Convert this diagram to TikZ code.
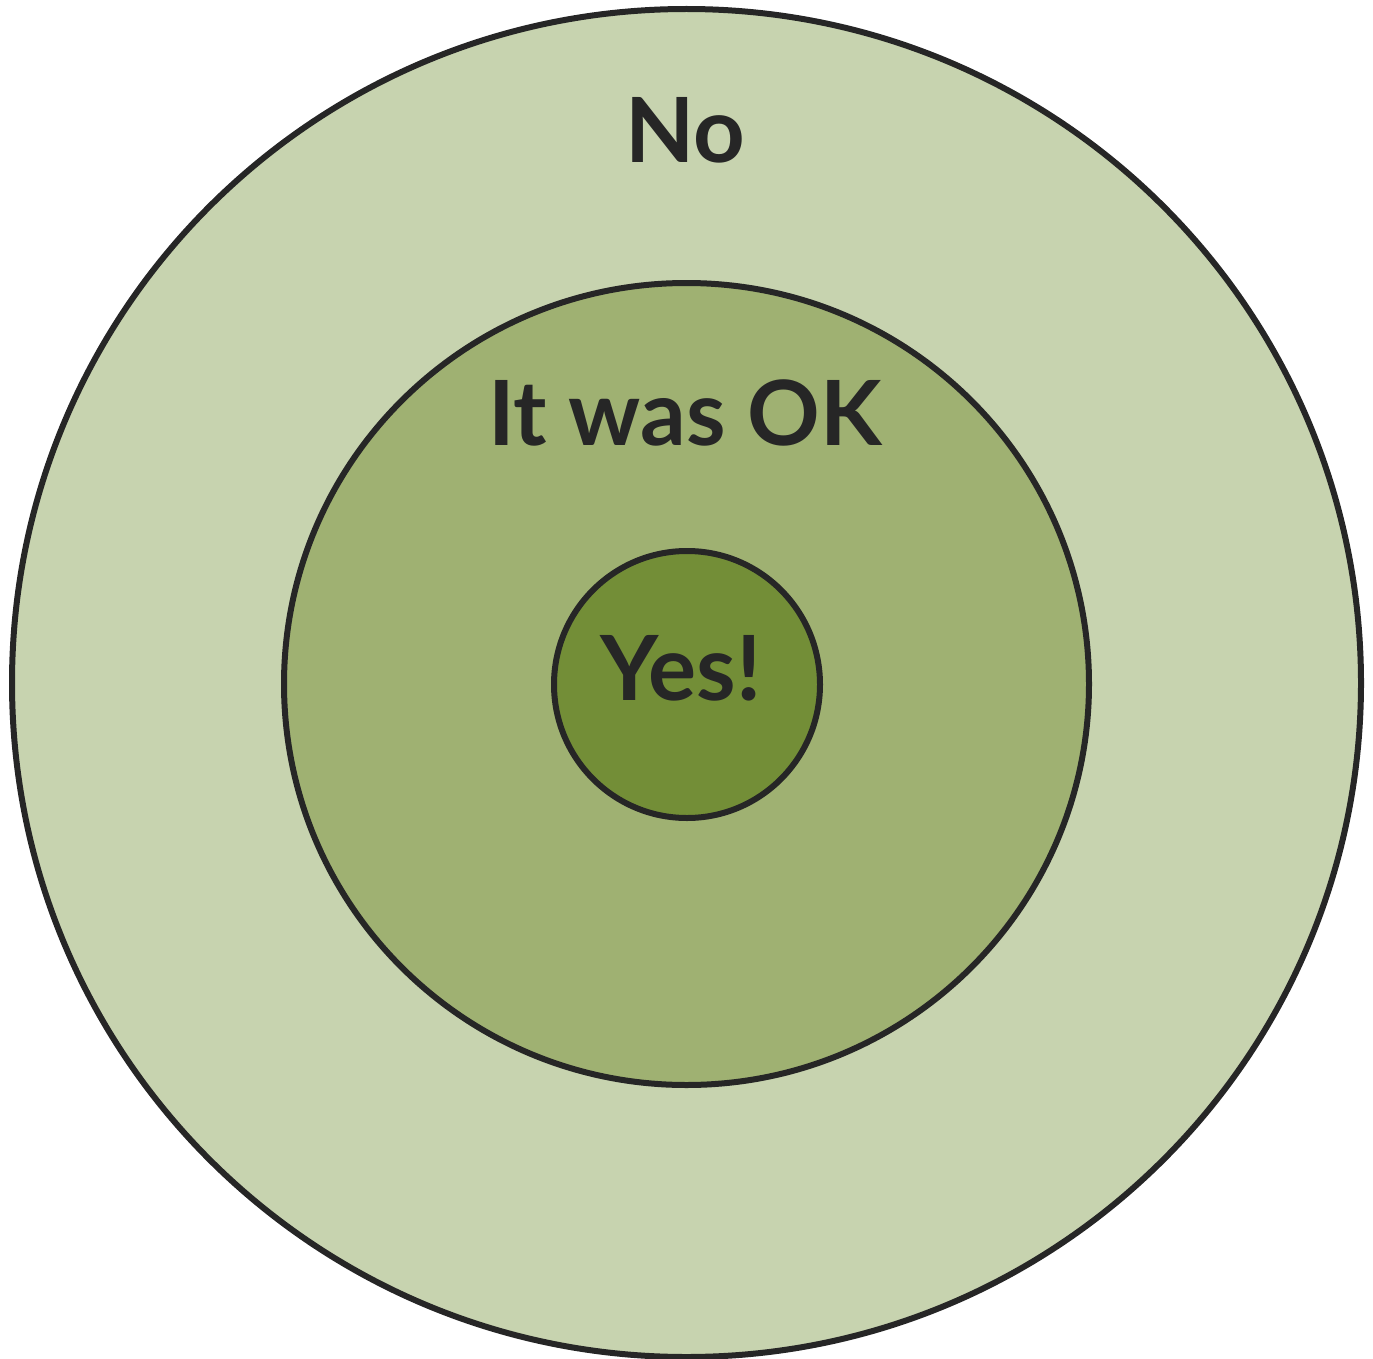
\documentclass[tikz,border=0pt]{standalone}
\usepackage{fontspec}
\setmainfont{Lato}
\definecolor{outerc}{HTML}{C7D3AF}
\definecolor{midc}{HTML}{9FB172}
\definecolor{innerc}{HTML}{738E37}
\definecolor{linec}{HTML}{262626}
\begin{document}
\begin{tikzpicture}[x=1pt,y=-1pt,
  ring/.style={draw=linec,line width=6pt},
  lbl/.style={text=linec,font=\fontsize{90}{90}\selectfont\bfseries,inner sep=0pt}]
\useasboundingbox (0,0) rectangle (1373,1359);
\path[ring,fill=outerc] (686.5,683) ellipse [x radius=674.5,y radius=674];
\path[ring,fill=midc] (686.5,684) ellipse [x radius=402.5,y radius=401];
\path[ring,fill=innerc] (687,684.5) ellipse [x radius=133,y radius=133.5];
\node[lbl] (no) at (685,130) {No};
\node[lbl] (ok) at (685,413) {It was OK};
\node[lbl] (yes) at (681,668) {Yes!};
\end{tikzpicture}
\end{document}
